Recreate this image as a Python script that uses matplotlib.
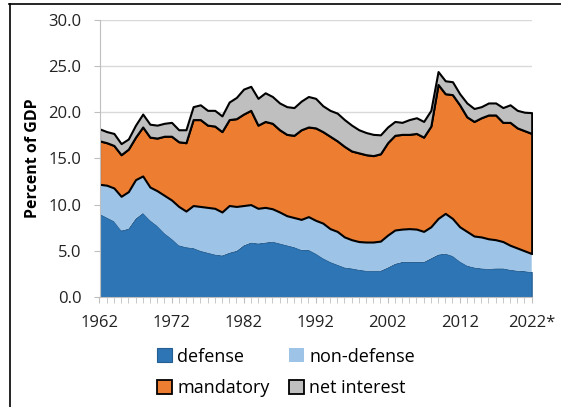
import matplotlib
matplotlib.use("Agg")
import matplotlib.pyplot as plt
from matplotlib.patches import Patch
from matplotlib.lines import Line2D
import numpy as np

plt.rcParams["font.family"] = ["Open Sans", "DejaVu Sans"]

years = np.arange(1962, 2023)
# outlays as percent of GDP
defense = [9.0, 8.6, 8.2, 7.2, 7.4, 8.5, 9.1, 8.3, 7.7, 6.9,
           6.3, 5.6, 5.4, 5.3, 5.0, 4.8, 4.6, 4.5, 4.8, 5.0,
           5.6, 5.9, 5.8, 5.9, 6.0, 5.8, 5.6, 5.4, 5.1, 5.1,
           4.7, 4.2, 3.8, 3.5, 3.2, 3.1, 2.95, 2.85, 2.85, 2.85,
           3.2, 3.6, 3.8, 3.8, 3.8, 3.8, 4.2, 4.6, 4.7, 4.45,
           3.85, 3.4, 3.2, 3.1, 3.05, 3.1, 3.1, 2.95, 2.85, 2.8,
           2.7]
non_defense = [3.2, 3.5, 3.6, 3.7, 4.0, 4.2, 4.0, 3.6, 3.8, 4.1,
               4.2, 4.2, 3.9, 4.6, 4.8, 4.9, 5.0, 4.7, 5.1, 4.8,
               4.3, 4.1, 3.8, 3.8, 3.55, 3.4, 3.2, 3.2, 3.3, 3.6,
               3.6, 3.8, 3.6, 3.6, 3.3, 3.1, 3.05, 3.1, 3.1, 3.2,
               3.5, 3.65, 3.55, 3.6, 3.55, 3.3, 3.4, 3.9, 4.35, 4.05,
               3.75, 3.7, 3.4, 3.4, 3.25, 3.1, 2.9, 2.65, 2.45, 2.2,
               2.0]
mandatory = [4.7, 4.6, 4.6, 4.5, 4.6, 4.6, 5.3, 5.4, 5.7, 6.4,
             6.9, 7.0, 7.4, 9.3, 9.4, 8.9, 8.9, 8.7, 9.3, 9.5,
             9.9, 10.2, 9.0, 9.3, 9.25, 8.9, 8.8, 8.9, 9.7, 9.7,
             10.0, 9.9, 10.0, 9.8, 9.8, 9.6, 9.6, 9.45, 9.35, 9.45,
             10.0, 10.25, 10.25, 10.2, 10.35, 10.2, 10.9, 14.5, 12.95, 13.4,
             13.2, 12.4, 12.4, 12.9, 13.4, 13.5, 12.9, 13.3, 13.0, 13.0,
             13.0]
net_interest = [1.3, 1.2, 1.3, 1.2, 1.1, 1.3, 1.4, 1.4, 1.4, 1.4,
                1.5, 1.3, 1.4, 1.4, 1.6, 1.6, 1.7, 1.7, 1.9, 2.3,
                2.7, 2.6, 2.9, 3.1, 2.9, 2.9, 3.0, 3.0, 3.1, 3.3,
                3.2, 2.8, 2.8, 3.0, 2.9, 2.8, 2.5, 2.4, 2.3, 2.05,
                1.7, 1.5, 1.3, 1.6, 1.7, 1.7, 1.7, 1.4, 1.4, 1.4,
                1.2, 1.5, 1.4, 1.2, 1.3, 1.3, 1.6, 1.9, 1.9, 2.0,
                2.25]

labels = ["defense", "non-defense", "mandatory", "net interest"]
colors = ["#2E75B6", "#9DC3E6", "#ED7D31", "#BFBFBF"]
edges = ["#255E91", "none", "black", "black"]
widths = [0.8, 0, 1.5, 1.5]

fig = plt.figure(figsize=(5.61, 4.07), dpi=100)
ax = fig.add_axes([99.5 / 561, 1 - 297 / 407, 432.2 / 561, 277.2 / 407])

polys = ax.stackplot(years, defense, non_defense, mandatory, net_interest,
                     colors=colors, zorder=2)
for p, ec, lw in zip(polys, edges, widths):
    p.set_edgecolor(ec)
    p.set_linewidth(lw)

ax.set_xlim(1962, 2022)
ax.set_ylim(0, 30)
ax.set_yticks(np.arange(0, 31, 5))
ax.set_yticklabels([f"{v:.1f}" for v in np.arange(0, 31, 5)], fontsize=12, color="#222222")
xt = list(range(1962, 2023, 10))
ax.set_xticks(xt)
ax.set_xticklabels([str(y) for y in xt[:-1]] + ["2022*"], fontsize=12, color="#222222")
ax.set_xticks(years, minor=True)
ax.tick_params(axis="x", which="both", length=4, color="#BFBFBF", pad=9)
ax.tick_params(axis="y", length=4, color="#BFBFBF", pad=9)
ax.grid(axis="y", color="#D9D9D9", lw=1, zorder=0)
ax.set_axisbelow(True)
for s in ["top", "right"]:
    ax.spines[s].set_visible(False)
for s in ["left", "bottom"]:
    ax.spines[s].set_color("#BFBFBF")
ax.set_ylabel("Percent of GDP", fontsize=11.5, fontweight="bold", labelpad=5)

handles = [Patch(facecolor=colors[0], edgecolor=edges[0], lw=0.8),
           Patch(facecolor=colors[2], edgecolor="black", lw=1.3),
           Patch(facecolor=colors[1], edgecolor="none"),
           Patch(facecolor=colors[3], edgecolor="black", lw=1.3)]
fig.legend(handles, [labels[0], labels[2], labels[1], labels[3]], ncol=2,
           loc="center", bbox_to_anchor=(0.51, 0.085), frameon=False,
           fontsize=13, handlelength=0.8, handleheight=0.8,
           handletextpad=0.3, columnspacing=1.1, labelspacing=0.75)

# outer frame (top and left edges visible in the original crop)
fig.add_artist(Line2D([9.5 / 561, 9.5 / 561], [0, 1 - 4 / 407], color="black", lw=1.2))
fig.add_artist(Line2D([9 / 561, 1], [1 - 4 / 407, 1 - 4 / 407], color="black", lw=1.2))

fig.savefig("out.png", dpi=100)
